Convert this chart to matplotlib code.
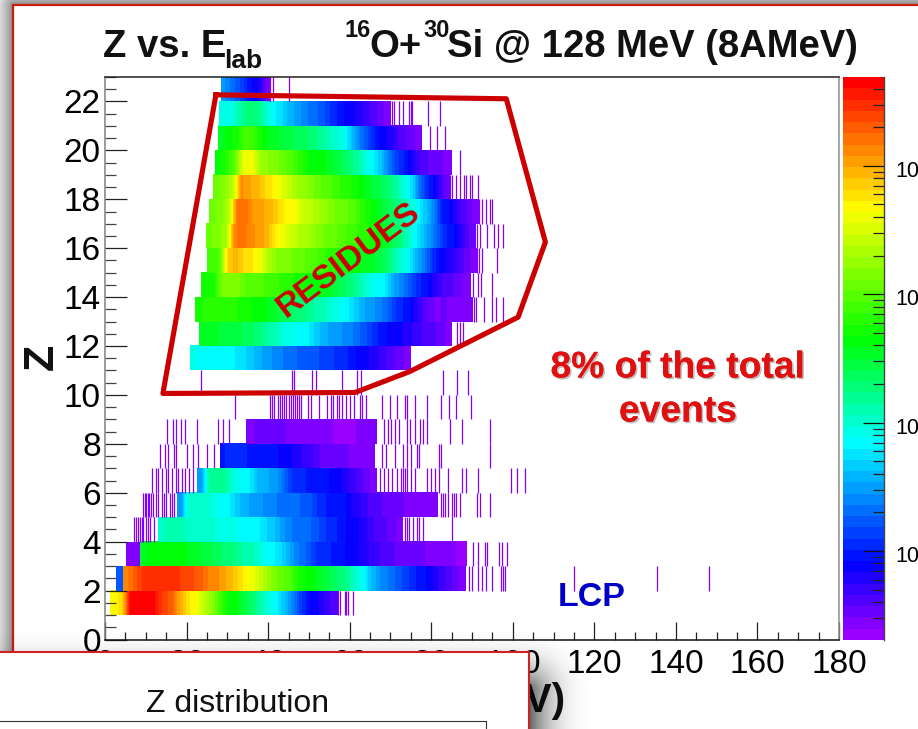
import numpy as np
import matplotlib
matplotlib.use('Agg')
import matplotlib.pyplot as plt
import matplotlib.patheffects as pe
import matplotlib.cm as cm
from matplotlib.colors import LinearSegmentedColormap, LogNorm, Normalize
from matplotlib.patches import Rectangle
from matplotlib.ticker import LogLocator, NullFormatter
from matplotlib.transforms import ScaledTranslation

plt.rcParams['font.family'] = ['Liberation Sans', 'DejaVu Sans']

W = 918
H = 729

# log10(counts) in 2 MeV bins per Z row: (first bin edge, values), stripes are single low count bins
z1_start = 1.2
z1_vals = [3.65, 3.8, 4.65, 4.69, 4.69, 4.6, 4.4, 4.3, 4.0, 3.75, 3.65, 3.4, 3.2, 2.9, 2.65, 2.6, 2.45, 2.3, 2.1, 1.95, 1.8, 1.6, 1.35, 1.1, 0.9, 0.85, 0.7, 0.6]
z1_stripes = [57.2, 57.7, 58.8, 59.2, 59.6, 60.8]
z2_head = (2.7, 4.4, 1.2)
z2_start = 4.4
z2_vals = [4.15, 4.3, 4.45, 4.5, 4.5, 4.45, 4.45, 4.4, 4.35, 4.3, 4.15, 4.1, 4.0, 3.9, 3.75, 3.65, 3.5, 3.3, 3.15, 3.05, 2.95, 2.75, 2.65, 2.6, 2.5, 2.4, 2.3, 2.2, 2.0, 1.85, 1.6, 1.45, 1.35, 1.25, 1.15, 1.05, 0.95, 0.9, 0.75, 0.65, 0.55, 0.45]
z2_stripes = [89.2, 90, 91.5, 92.5, 93.5, 95, 97, 97.6, 98, 115, 135.4, 148.2]
z3_head = (5.2, 8.7, 0.42)
z3_start = 8.7
z3_vals = [2.55, 2.65, 2.65, 2.65, 2.6, 2.6, 2.55, 2.5, 2.45, 2.35, 2.3, 2.25, 2.15, 2.1, 2.0, 1.85, 1.8, 1.7, 1.5, 1.35, 1.25, 1.1, 1.05, 1.0, 0.95, 0.9, 0.85, 0.8, 0.7, 0.65, 0.6, 0.55, 0.55, 0.5, 0.5, 0.45, 0.45, 0.4, 0.4, 0.35]
z3_stripes = [90.3, 91.5, 93.2, 93.6, 96.5, 97.3, 98.5]
z4_start = 13.1
z4_vals = [2.05, 2.1, 2.1, 2.05, 2.05, 2.0, 2.0, 1.95, 1.95, 1.9, 1.85, 1.8, 1.8, 1.7, 1.6, 1.45, 1.35, 1.35, 1.3, 1.2, 1.1, 1.05, 0.95, 0.9, 0.85, 0.75, 0.65, 0.6, 0.55, 0.45]
z4_stripes = [7.2, 7.6, 8, 8.6, 9, 9.4, 10, 10.5, 11, 12, 73.6, 74, 74.6, 75.5, 76.5, 77, 78, 85.2]
z5_start = 17.7
z5_vals = [1.5, 2.05, 2.0, 2.0, 1.95, 1.85, 1.8, 1.65, 1.55, 1.5, 1.45, 1.4, 1.35, 1.35, 1.3, 1.25, 1.2, 1.05, 1.0, 1.0, 0.95, 0.8, 0.75, 0.65, 0.6, 0.55, 0.55, 0.5, 0.45, 0.45, 0.4, 0.4]
z5_stripes = [9.3, 9.7, 10.1, 10.5, 10.9, 11.3, 11.7, 12.5, 13, 14, 14.5, 15, 16, 16.5, 17, 82.5, 83, 83.5, 84, 85, 85.5, 86, 87, 91.2, 92, 94.4]
z6_start = 22.5
z6_vals = [1.45, 2.15, 2.2, 2.15, 1.95, 1.85, 1.8, 1.6, 1.55, 1.5, 1.35, 1.1, 1.05, 1.0, 1.0, 0.95, 0.9, 0.85, 0.75, 0.65, 0.55, 0.45]
z6_stripes = [11.5, 12.5, 13, 14, 15, 15.5, 16.5, 17.5, 18, 19, 19.5, 20.5, 21.5, 67.5, 68.5, 69.5, 70.5, 71.5, 72.5, 73, 73.5, 74, 75, 76, 79, 80, 81, 82, 84, 87.5, 88.5, 91.5, 99.5, 101, 103]
z7_start = 28.2
z7_vals = [1.0, 1.05, 1.05, 1.0, 1.0, 0.95, 0.95, 0.9, 0.85, 0.8, 0.7, 0.65, 0.55, 0.55, 0.55, 0.5, 0.45, 0.45, 0.45]
z7_stripes = [13.6, 14.6, 15.5, 16.9, 17.5, 20, 21.5, 22.9, 25, 26.8, 68, 69, 71, 73, 74, 75, 76.5, 77, 81.8, 82.4, 94.3]
z8_start = 34.5
z8_vals = [0.45, 0.5, 0.55, 0.5, 0.5, 0.45, 0.45, 0.4, 0.4, 0.45, 0.4, 0.35, 0.35, 0.4, 0.4, 0.45]
z8_stripes = [15.1, 16.7, 17.5, 18.7, 19.6, 22.5, 27.8, 28.9, 30.3, 68.3, 69.5, 70.2, 71, 72, 74, 74.8, 76, 77.3, 78, 79, 84.6, 87.5, 94.3]
z9_stripes = [31.9, 40.5, 41, 41.5, 42.5, 43, 43.5, 44, 44.5, 45, 45.5, 46, 46.5, 47, 47.5, 48, 49.8, 50.5, 52.5, 54.5, 55.5, 56, 56.8, 57.5, 58, 59, 60, 61, 62.5, 63, 64, 68, 70, 71.5, 73.5, 74, 76, 79, 82.5, 84.3, 86, 89.8]
z10_stripes = [23.5, 45.8, 46.3, 50.7, 51.7, 58, 61.7, 62.8, 82.8, 86.3, 89.1]
z11_start = 20.9
z11_vals = [1.9, 1.85, 1.85, 1.85, 1.8, 1.8, 1.75, 1.65, 1.55, 1.5, 1.4, 1.35, 1.3, 1.25, 1.2, 1.2, 1.15, 1.1, 1.05, 1.0, 0.9, 0.85, 0.8, 0.7, 0.6, 0.55, 0.45]
z12_start = 23.0
z12_vals = [2.55, 2.5, 2.5, 2.45, 2.45, 2.4, 2.35, 2.25, 2.15, 2.05, 1.95, 1.9, 1.85, 1.8, 1.65, 1.55, 1.5, 1.45, 1.4, 1.3, 1.2, 1.05, 0.95, 0.9, 0.85, 0.8, 0.7, 0.65, 0.6, 0.55, 0.45]
z12_stripes = [86.3, 87, 87.9]
z13_start = 22.0
z13_vals = [2.7, 2.85, 2.85, 2.8, 2.8, 2.75, 2.7, 2.65, 2.6, 2.55, 2.45, 2.35, 2.3, 2.25, 2.15, 2.1, 2.0, 1.9, 1.85, 1.7, 1.55, 1.5, 1.4, 1.3, 1.1, 1.0, 0.9, 0.7, 0.55, 0.45, 0.5, 0.45, 0.45, 0.4]
z13_stripes = [90.5, 91, 93, 95, 96, 97.5]
z14_start = 23.5
z14_vals = [2.75, 2.7, 3.1, 3.2, 3.15, 3.0, 2.95, 2.95, 2.9, 2.85, 2.8, 2.75, 2.7, 2.65, 2.6, 2.55, 2.45, 2.35, 2.25, 2.1, 1.95, 1.85, 1.8, 1.55, 1.4, 1.25, 1.05, 0.95, 0.8, 0.65, 0.6, 0.5, 0.45]
z14_stripes = [90.3, 91.5, 92.3, 94.8]
z15_start = 25.0
z15_vals = [2.9, 2.95, 3.8, 3.95, 3.8, 3.75, 3.6, 3.35, 3.2, 3.15, 3.1, 3.05, 3.0, 2.95, 2.85, 2.8, 2.7, 2.65, 2.6, 2.55, 2.5, 2.4, 2.25, 2.0, 1.9, 1.6, 1.4, 1.1, 0.9, 0.8, 0.7, 0.55, 0.45]
z15_stripes = [91.2, 91.8, 92.4, 96.2]
z16_start = 24.8
z16_vals = [3.1, 3.15, 3.3, 4.15, 4.2, 4.1, 4.05, 3.95, 3.7, 3.6, 3.45, 3.35, 3.3, 3.2, 3.1, 3.05, 3.0, 2.9, 2.85, 2.8, 2.7, 2.6, 2.45, 2.3, 2.1, 1.85, 1.65, 1.45, 1.2, 1.0, 0.9, 0.7, 0.5]
z16_stripes = [91.2, 92, 93.6, 95.5, 96.4, 97.7]
z17_start = 25.6
z17_vals = [3.1, 3.15, 3.4, 4.25, 4.2, 4.05, 4.0, 3.95, 3.8, 3.7, 3.65, 3.45, 3.4, 3.3, 3.2, 3.1, 3.05, 3.0, 2.85, 2.7, 2.6, 2.45, 2.35, 2.2, 2.0, 1.85, 1.65, 1.4, 1.0, 0.9, 0.7, 0.55, 0.45]
z17_stripes = [91.6, 92.5, 93.5, 94.5, 94.8]
z18_start = 26.4
z18_vals = [3.1, 3.2, 3.4, 4.1, 4.0, 3.95, 3.8, 3.7, 3.55, 3.4, 3.25, 3.2, 3.1, 3.0, 2.95, 2.85, 2.8, 2.7, 2.6, 2.5, 2.4, 2.3, 2.15, 1.95, 1.7, 1.25, 1.0, 0.8, 0.5]
z18_stripes = [84.6, 85, 86, 87, 88, 88.5, 89.5, 90, 91.5]
z19_start = 27.0
z19_vals = [2.65, 2.8, 3.05, 3.6, 3.65, 3.3, 3.2, 3.15, 3.05, 2.95, 2.8, 2.65, 2.6, 2.6, 2.5, 2.4, 2.3, 2.15, 1.95, 1.8, 1.6, 1.3, 1.1, 0.95, 0.75, 0.6, 0.55, 0.5, 0.45]
z19_stripes = [87.1]
z20_start = 27.8
z20_vals = [2.55, 2.65, 2.75, 2.95, 2.85, 2.65, 2.55, 2.5, 2.45, 2.4, 2.35, 2.3, 2.2, 2.1, 2.0, 1.9, 1.6, 1.35, 1.15, 0.95, 0.85, 0.75, 0.6, 0.55, 0.45]
z20_stripes = [79.7, 81.4, 83.4]
z21_start = 28.0
z21_vals = [1.9, 1.95, 2.1, 2.3, 2.3, 2.1, 1.85, 1.75, 1.6, 1.5, 1.4, 1.3, 1.25, 1.1, 1.0, 0.9, 0.85, 0.75, 0.65, 0.55, 0.45]
z21_stripes = [70.3, 70.9, 72, 73, 74.5, 75, 75.2, 79.1, 82.2]
z22_start = 28.5
z22_vals = [1.45, 1.3, 1.15, 0.95, 0.85, 0.55]
z22_stripes = [39.7, 40.1, 40.5, 41.1, 45]

rows = [
    (1, z1_start, z1_vals, z1_stripes), (2, z2_start, z2_vals, z2_stripes),
    (3, z3_start, z3_vals, z3_stripes), (4, z4_start, z4_vals, z4_stripes),
    (5, z5_start, z5_vals, z5_stripes), (6, z6_start, z6_vals, z6_stripes),
    (7, z7_start, z7_vals, z7_stripes), (8, z8_start, z8_vals, z8_stripes),
    (9, None, [], z9_stripes), (10, None, [], z10_stripes),
    (11, z11_start, z11_vals, []), (12, z12_start, z12_vals, z12_stripes),
    (13, z13_start, z13_vals, z13_stripes), (14, z14_start, z14_vals, z14_stripes),
    (15, z15_start, z15_vals, z15_stripes), (16, z16_start, z16_vals, z16_stripes),
    (17, z17_start, z17_vals, z17_stripes), (18, z18_start, z18_vals, z18_stripes),
    (19, z19_start, z19_vals, z19_stripes), (20, z20_start, z20_vals, z20_stripes),
    (21, z21_start, z21_vals, z21_stripes), (22, z22_start, z22_vals, z22_stripes),
]
heads = [(2, z2_head), (3, z3_head)]

cut_E = [27.2, 98.4, 108.0, 101.3, 74.8, 61.3, 14.2, 27.2]
cut_Z = [22.27, 22.11, 16.25, 13.18, 10.96, 10.1, 10.06, 22.27]

x_ticks = list(range(0, 181, 20))
y_ticks = list(range(0, 23, 2))
cbar_ticks = [1e1, 1e2, 1e3, 1e4]

def fx(x):
    return x / W

def fy(y):
    return 1 - y / H

def box(l, t, r, b):
    return [fx(l), fy(b), (r - l) / W, (b - t) / H]

fig = plt.figure(figsize=(W / 100, H / 100), dpi=100, facecolor='white')

# shadows round the two slides
yy, xx = np.mgrid[0:H, 0:W] + 0.5
dx = np.clip(13 - xx, 0, None)
dy = np.clip(5 - yy, 0, None)
d = np.hypot(dx, dy)
back = np.zeros((H, W, 4))
back[..., 3] = np.where(d > 0, 0.45 * np.clip(1 - d / 24, 0, 1) ** 1.5, 0)
bg = fig.add_axes([0, 0, 1, 1], zorder=-1)
bg.imshow(back, extent=(0, W, H, 0), aspect='auto')
bg.axis('off')

dx = np.clip(xx - 529, 0, None)
dy = np.clip(690 - yy, 0, None)
over = np.zeros((H, W, 4))
over[..., 3] = 0.62 * np.clip(1 - np.hypot(dx, dy) / 75, 0, 1) ** 3
sh = fig.add_axes([0, 0, 1, 1], zorder=4)
sh.imshow(over, extent=(0, W, H, 0), aspect='auto')
sh.axis('off')

red = '#c8200c'
fig.add_artist(Rectangle((fx(13), fy(H + 5)), 1, (H + 5 - 5) / H, fill=False, ec=red, lw=1.6,
                         transform=fig.transFigure, zorder=0.5))

ax = fig.add_axes(box(105, 77, 839, 639.5), zorder=1)
ax.patch.set_alpha(0)

nodes = [(0.0, '#9900ff'), (0.128, '#0000ff'), (0.35, '#00ffff'), (0.535, '#00ff00'), (0.77, '#ffff00'), (1.0, '#ff0000')]
cmap = LinearSegmentedColormap.from_list('root', nodes, N=50)
L_MIN = 0.307
L_MAX = 4.692
lin = Normalize(L_MIN, L_MAX)

for z, start, vals, stripes in rows:
    if vals:
        end = start + 2.0 * len(vals)
        ax.imshow(np.array(vals)[np.newaxis, :], extent=(start, end, z, z + 1), aspect='auto', origin='lower',
                  cmap=cmap, norm=lin, interpolation='bilinear', interpolation_stage='data')
    if stripes:
        ax.vlines(stripes, z, z + 1, color=cmap(0.03), lw=0.9)
for z, (e0, e1, v) in heads:
    ax.pcolormesh([e0, e1], [z, z + 1], [[v]], cmap=cmap, norm=lin, shading='flat', antialiased=False)

ax.plot(cut_E, cut_Z, color='#cc0000', lw=3.7, solid_joinstyle='round', zorder=3)

ax.set_xlim(0, 180)
ax.set_ylim(0, 23)
ax.set_xticks(x_ticks)
ax.set_yticks(y_ticks)
ax.set_xticks(np.arange(0, 181, 5), minor=True)
ax.set_yticks(np.arange(0, 23.1, 0.5), minor=True)
ax.tick_params(axis='x', which='major', direction='in', length=13, width=0.9, labelsize=24, pad=7, color='#222222')
ax.tick_params(axis='x', which='minor', direction='in', length=6, width=0.9, color='#222222')
ax.tick_params(axis='y', which='major', direction='in', length=16, width=0.9, labelsize=24, pad=3, color='#222222')
ax.tick_params(axis='y', which='minor', direction='in', length=8, width=0.9, color='#444444')
ax.spines['left'].set_color('#808080')
ax.spines['right'].set_color('#909090')
ax.spines['top'].set_color('#222222')
ax.spines['bottom'].set_color('#111111')
for s in ax.spines.values():
    s.set_linewidth(1.1)

fig.text(fx(349), fy(260), 'RESIDUES', rotation=37, color='#cc0000', fontsize=24, fontweight='bold',
         ha='center', va='center', rotation_mode='anchor', zorder=3)

shadow = [pe.withSimplePatchShadow(offset=(1.2, -1.2), shadow_rgbFace='#808080', alpha=0.5), pe.Normal()]
for txt, py in (('8% of the total', 368), ('events', 412)):
    fig.text(fx(678), fy(py), txt, color='#e01010', fontsize=26.8, fontweight='bold', ha='center', va='center',
             path_effects=shadow, zorder=3)
fig.text(fx(592), fy(598), 'LCP', color='#0000c8', fontsize=24.5, fontweight='bold', ha='center', va='center', zorder=3)

# titles
black = '#111111'
fig.text(fx(103), fy(57), 'Z vs. E', fontsize=27.5, fontweight='bold', color=black, va='baseline')
fig.text(fx(224), fy(68), 'lab', fontsize=19, fontweight='bold', color=black, va='baseline')
fig.text(fx(345), fy(37), '16', fontsize=17, fontweight='bold', color=black, va='baseline')
fig.text(fx(369), fy(57), 'O+', fontsize=27.5, fontweight='bold', color=black, va='baseline')
fig.text(fx(423), fy(37), '30', fontsize=17, fontweight='bold', color=black, va='baseline')
fig.text(fx(447), fy(57), 'Si @ 128 MeV (8AMeV)', fontsize=27.5, fontweight='bold', color=black, va='baseline')
fig.text(fx(42), fy(357), 'Z', fontsize=31, fontweight='bold', color=black, rotation=90, ha='center', va='center')
fig.text(fx(565), fy(712), 'E   (MeV)', fontsize=29, fontweight='bold', color=black, ha='right', va='baseline', zorder=3)

# colour bar
cax = fig.add_axes(box(843, 77, 884, 640), zorder=1)
norm = LogNorm(vmin=10 ** L_MIN, vmax=10 ** L_MAX)
cb = fig.colorbar(cm.ScalarMappable(norm=norm, cmap=cmap), cax=cax)
cb.outline.set_visible(False)
cax.yaxis.set_major_locator(plt.FixedLocator(cbar_ticks))
cax.yaxis.set_major_formatter(plt.FixedFormatter(['10'] * len(cbar_ticks)))
cax.yaxis.set_minor_locator(LogLocator(base=10, subs=range(2, 10), numticks=12))
cax.yaxis.set_minor_formatter(NullFormatter())
cax.tick_params(which='major', direction='in', length=15, width=0.9, labelsize=15.5, pad=8, right=True, left=False, color='#111111')
cax.tick_params(which='minor', direction='in', length=8, width=0.9, right=True, left=False, color='#222222')
cax.spines['right'].set_visible(True)
cax.spines['right'].set_color('#444444')
cax.spines['right'].set_linewidth(1.0)
for lab in cax.get_yticklabels():
    lab.set_transform(lab.get_transform() + ScaledTranslation(0, -3 / 100, fig.dpi_scale_trans))

# second slide on top
fig.add_artist(Rectangle((fx(-5), fy(H + 5)), (529 + 5) / W, (H + 5 - 651.5) / H, fc='white', ec='#cc2222', lw=1.5,
                         transform=fig.transFigure, zorder=5))
fig.text(fx(238), fy(704), 'Z distribution', fontsize=23, color=black, ha='center', va='center', zorder=6)
fig.add_artist(plt.Line2D([0, fx(486), fx(486)], [fy(721), fy(721), 0], color='#333333', lw=0.8,
                          transform=fig.transFigure, zorder=6))

fig.savefig('out.png', dpi=100)
